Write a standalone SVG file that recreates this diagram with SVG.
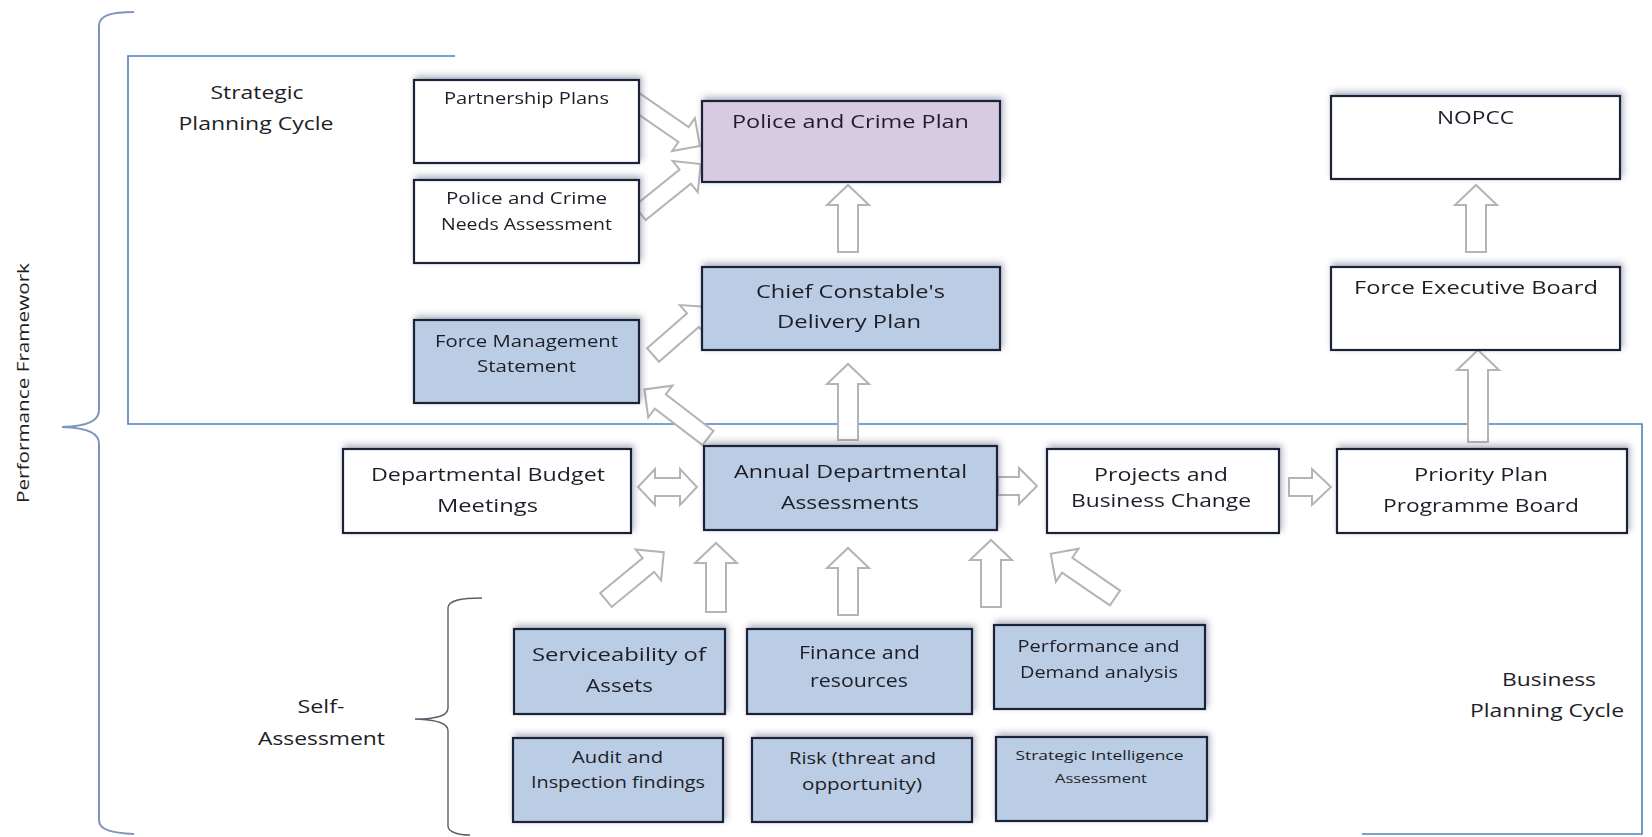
<svg xmlns="http://www.w3.org/2000/svg" width="1652" height="837" viewBox="0 0 1652 837">
  <defs>
    <filter id="boxShadow" x="-10%" y="-20%" width="120%" height="140%">
      <feDropShadow dx="2" dy="-3" stdDeviation="3" flood-color="#4a5578" flood-opacity="0.45"/>
    </filter>
    <filter id="soft" x="-10%" y="-10%" width="120%" height="120%">
      <feGaussianBlur stdDeviation="0.5"/>
    </filter>
  </defs>
  <style>
    .box { stroke: #1c2438; stroke-width: 2.2; filter: url(#boxShadow); }
    .white { fill: #ffffff; }
    .blue { fill: #bacde4; }
    .purple { fill: #d6cbe1; }
    .frame { fill: none; stroke: #4f81bd; stroke-width: 1.6; }
    .brace { fill: none; stroke: #7d95bd; stroke-width: 2; }
    .brace2 { fill: none; stroke: #5a5f6a; stroke-width: 1.4; }
    .arrow { fill: #ffffff; stroke: #b4b4b4; stroke-width: 2; stroke-linejoin: miter; }
    text { font-family: "Open Sans", "Liberation Sans", Arial, sans-serif; fill: #1e1e28; text-anchor: middle; }
    .t18 { font-size: 18px; }
    .t15 { font-size: 15.5px; }
    .t13 { font-size: 13.5px; }
    .lbl { font-size: 18px; }
  </style>

  <rect x="0" y="0" width="1652" height="837" fill="#ffffff"/>

  <!-- cycle frames and braces -->
  <g id="frames">
    <path class="frame" d="M455,56 H128 V424 H1642 V834 H1362"/>
    <path class="brace" d="M134,12 C112,12 99,15 99,26 V410 C99,420 90,426 62,427 C90,428 99,434 99,444 V820 C99,830 112,833 134,834"/>
    <path class="brace2" d="M482,598 C462,598 448,600 448,608 V708 C448,715 440,719 415,719 C440,720 448,724 448,731 V826 C448,832 458,835 470,835"/>
  </g>

  <!-- region labels -->
  <g id="labels">
    <text class="lbl" transform="translate(29,383) rotate(-90)" textLength="240" lengthAdjust="spacingAndGlyphs" style="font-size:17px">Performance Framework</text>
    <text class="lbl" x="257" y="99" textLength="93" lengthAdjust="spacingAndGlyphs">Strategic</text>
    <text class="lbl" x="256" y="130" textLength="155" lengthAdjust="spacingAndGlyphs">Planning Cycle</text>
    <text class="lbl" x="321" y="713" textLength="47" lengthAdjust="spacingAndGlyphs">Self-</text>
    <text class="lbl" x="321.5" y="745" textLength="127" lengthAdjust="spacingAndGlyphs">Assessment</text>
    <text class="lbl" x="1549" y="686" textLength="94" lengthAdjust="spacingAndGlyphs">Business</text>
    <text class="lbl" x="1547" y="717" textLength="154" lengthAdjust="spacingAndGlyphs">Planning Cycle</text>
  </g>

  <!-- block arrows between nodes -->
  <g id="connectors" filter="url(#soft)">
    <!-- vertical up arrows: tail at origin, drawn along +x then rotated -->
    <path class="arrow" transform="translate(848,252) rotate(-90)" d="M0,-10 H47 V-21 L67,0 L47,21 V10 H0 Z"/>
    <path class="arrow" transform="translate(848,440) rotate(-90)" d="M0,-10 H56 V-21 L76,0 L56,21 V10 H0 Z"/>
    <path class="arrow" transform="translate(1476,252) rotate(-90)" d="M0,-10 H47 V-21 L67,0 L47,21 V10 H0 Z"/>
    <path class="arrow" transform="translate(1478,442) rotate(-90)" d="M0,-10 H72 V-21 L92,0 L72,21 V10 H0 Z"/>
    <path class="arrow" transform="translate(716,612) rotate(-90)" d="M0,-10 H49 V-21 L69,0 L49,21 V10 H0 Z"/>
    <path class="arrow" transform="translate(848,615) rotate(-90)" d="M0,-10 H47 V-21 L67,0 L47,21 V10 H0 Z"/>
    <path class="arrow" transform="translate(991,607) rotate(-90)" d="M0,-10 H47 V-21 L67,0 L47,21 V10 H0 Z"/>

    <!-- diagonal arrows -->
    <path class="arrow" transform="translate(635,101) rotate(34.7)" d="M0,-9 H59 V-20 L79,0 L59,20 V9 H0 Z"/>
    <path class="arrow" transform="translate(640,213) rotate(-38.8)" d="M0,-9 H58 V-20 L78,0 L58,20 V9 H0 Z"/>
    <path class="arrow" transform="translate(653,355) rotate(-41.1)" d="M0,-9 H53 V-20 L73,0 L53,20 V9 H0 Z"/>
    <path class="arrow" transform="translate(708,438) rotate(-142.6)" d="M0,-9 H60 V-20 L80,0 L60,20 V9 H0 Z"/>
    <path class="arrow" transform="translate(606,600) rotate(-39.6)" d="M0,-9 H55 V-20 L75,0 L55,20 V9 H0 Z"/>
    <path class="arrow" transform="translate(1115,598) rotate(-145.5)" d="M0,-9 H58 V-20 L78,0 L58,20 V9 H0 Z"/>

    <!-- horizontal arrows -->
    <path class="arrow" d="M638,487 L655,469 V478 H680 V469 L697,487 L680,505 V496 H655 V505 Z"/>
    <path class="arrow" transform="translate(998,486)" d="M0,-9 H21 V-18 L39,0 L21,18 V9 H0 Z"/>
    <path class="arrow" transform="translate(1289,487)" d="M0,-9 H23 V-18 L42,0 L23,18 V9 H0 Z"/>
  </g>

  <!-- strategic planning nodes -->
  <g id="partnership-plans">
    <rect class="box white" x="414" y="80" width="225" height="83"/>
    <text class="t15" x="526.5" y="104" textLength="165" lengthAdjust="spacingAndGlyphs">Partnership Plans</text>
  </g>
  <g id="needs-assessment">
    <rect class="box white" x="414" y="180" width="225" height="83"/>
    <text class="t15" x="526.5" y="204" textLength="161" lengthAdjust="spacingAndGlyphs">Police and Crime</text>
    <text class="t15" x="526.5" y="230" textLength="171" lengthAdjust="spacingAndGlyphs">Needs Assessment</text>
  </g>
  <g id="force-management-statement">
    <rect class="box blue" x="414" y="320" width="225" height="83"/>
    <text class="t15" x="526.5" y="347" textLength="183" lengthAdjust="spacingAndGlyphs">Force Management</text>
    <text class="t15" x="526.5" y="372" textLength="99" lengthAdjust="spacingAndGlyphs">Statement</text>
  </g>
  <g id="police-crime-plan">
    <rect class="box purple" x="702" y="101" width="298" height="81"/>
    <text class="t18" x="850.5" y="128" textLength="237" lengthAdjust="spacingAndGlyphs">Police and Crime Plan</text>
  </g>
  <g id="delivery-plan">
    <rect class="box blue" x="702" y="267" width="298" height="83"/>
    <text class="t18" x="850.5" y="298" textLength="189" lengthAdjust="spacingAndGlyphs">Chief Constable's</text>
    <text class="t18" x="849" y="328" textLength="144" lengthAdjust="spacingAndGlyphs">Delivery Plan</text>
  </g>
  <g id="nopcc">
    <rect class="box white" x="1331" y="96" width="289" height="83"/>
    <text class="t18" x="1475.5" y="124" textLength="77" lengthAdjust="spacingAndGlyphs">NOPCC</text>
  </g>
  <g id="force-executive-board">
    <rect class="box white" x="1331" y="267" width="289" height="83"/>
    <text class="t18" x="1476" y="294" textLength="244" lengthAdjust="spacingAndGlyphs">Force Executive Board</text>
  </g>

  <!-- business planning nodes -->
  <g id="budget-meetings">
    <rect class="box white" x="343" y="449" width="288" height="84"/>
    <text class="t18" x="488" y="481" textLength="234" lengthAdjust="spacingAndGlyphs">Departmental Budget</text>
    <text class="t18" x="487.5" y="512" textLength="101" lengthAdjust="spacingAndGlyphs">Meetings</text>
  </g>
  <g id="annual-assessments">
    <rect class="box blue" x="704" y="446" width="293" height="84"/>
    <text class="t18" x="850.5" y="478" textLength="233" lengthAdjust="spacingAndGlyphs">Annual Departmental</text>
    <text class="t18" x="850" y="509" textLength="138" lengthAdjust="spacingAndGlyphs">Assessments</text>
  </g>
  <g id="projects-change">
    <rect class="box white" x="1047" y="449" width="232" height="84"/>
    <text class="t18" x="1161" y="481" textLength="134" lengthAdjust="spacingAndGlyphs">Projects and</text>
    <text class="t18" x="1161" y="507" textLength="180" lengthAdjust="spacingAndGlyphs">Business Change</text>
  </g>
  <g id="priority-plan-board">
    <rect class="box white" x="1337" y="449" width="290" height="84"/>
    <text class="t18" x="1481" y="481" textLength="134" lengthAdjust="spacingAndGlyphs">Priority Plan</text>
    <text class="t18" x="1481" y="512" textLength="196" lengthAdjust="spacingAndGlyphs">Programme Board</text>
  </g>

  <!-- self-assessment nodes -->
  <g id="serviceability">
    <rect class="box blue" x="514" y="629" width="211" height="85"/>
    <text class="t18" x="619" y="661" textLength="174" lengthAdjust="spacingAndGlyphs">Serviceability of</text>
    <text class="t18" x="619.5" y="692" textLength="67" lengthAdjust="spacingAndGlyphs">Assets</text>
  </g>
  <g id="finance-resources">
    <rect class="box blue" x="747" y="629" width="225" height="85"/>
    <text class="t18" x="859.5" y="659" textLength="121" lengthAdjust="spacingAndGlyphs">Finance and</text>
    <text class="t18" x="859" y="687" textLength="98" lengthAdjust="spacingAndGlyphs">resources</text>
  </g>
  <g id="performance-demand">
    <rect class="box blue" x="994" y="625" width="211" height="84"/>
    <text class="t15" x="1098.5" y="652" textLength="162" lengthAdjust="spacingAndGlyphs">Performance and</text>
    <text class="t15" x="1099" y="678" textLength="158" lengthAdjust="spacingAndGlyphs">Demand analysis</text>
  </g>
  <g id="audit-inspection">
    <rect class="box blue" x="513" y="738" width="210" height="84"/>
    <text class="t15" x="617.5" y="763" textLength="91" lengthAdjust="spacingAndGlyphs">Audit and</text>
    <text class="t15" x="618" y="788" textLength="174" lengthAdjust="spacingAndGlyphs">Inspection findings</text>
  </g>
  <g id="risk">
    <rect class="box blue" x="752" y="738" width="220" height="84"/>
    <text class="t15" x="862.5" y="764" textLength="147" lengthAdjust="spacingAndGlyphs">Risk (threat and</text>
    <text class="t15" x="862" y="790" textLength="120" lengthAdjust="spacingAndGlyphs">opportunity)</text>
  </g>
  <g id="strategic-intelligence">
    <rect class="box blue" x="996" y="737" width="211" height="84"/>
    <text class="t13" x="1099.5" y="760" textLength="168" lengthAdjust="spacingAndGlyphs">Strategic Intelligence</text>
    <text class="t13" x="1101" y="783" textLength="92" lengthAdjust="spacingAndGlyphs">Assessment</text>
  </g>
</svg>
